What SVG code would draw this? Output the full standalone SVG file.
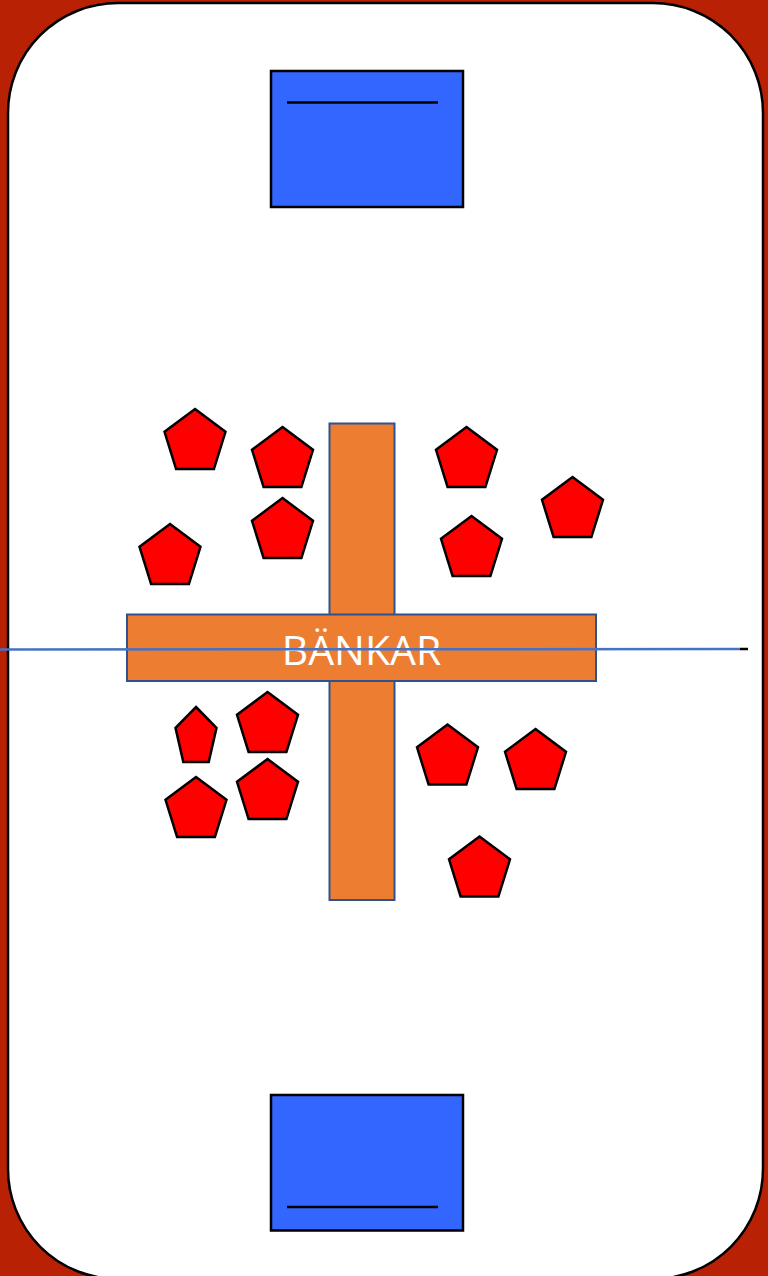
<svg xmlns="http://www.w3.org/2000/svg" width="768" height="1276" viewBox="0 0 768 1276">
<style>
.goal{fill:#3366FF;stroke:#000;stroke-width:2.5}
.gline{stroke:#000;stroke-width:2.5}
.bench{fill:#ED7D31;stroke:#2F528F;stroke-width:2}
.p{fill:#FF0000;stroke:#000;stroke-width:2.5;stroke-linejoin:miter}
.lbl{font-family:"Open Sans","Liberation Sans",sans-serif;font-size:41px;fill:#fff}
</style>
<rect x="0" y="0" width="768" height="1276" fill="#B82104"/>
<rect x="8" y="3" width="755" height="1276" rx="110" ry="110" fill="#fff" stroke="#000" stroke-width="2.5"/>
<g id="goal-top"><rect class="goal" x="271" y="71" width="192" height="136"/><line class="gline" x1="287" y1="102.5" x2="438" y2="102.5"/></g>
<g id="goal-bottom"><rect class="goal" x="271" y="1095" width="192" height="135.5"/><line class="gline" x1="287" y1="1207" x2="438" y2="1207"/></g>
<g id="bench-vertical"><rect class="bench" x="329.5" y="423.5" width="65" height="476.5"/></g>
<g id="bench-horizontal"><rect class="bench" x="127" y="614.5" width="469" height="66.5"/><text class="lbl" x="361.5" y="664.5" text-anchor="middle">BÄNKAR</text></g>
<g id="players">
<polygon id="p1" class="p" points="195,409 225.5,431.8 213.9,469 176.1,469 164.5,431.8"/>
<polygon id="p2" class="p" points="282.5,427 313,449.8 301.4,487 263.6,487 252,449.8"/>
<polygon id="p3" class="p" points="282.5,498 313,520.8 301.4,558 263.6,558 252,520.8"/>
<polygon id="p4" class="p" points="170,524 200.5,546.8 188.9,584 151.1,584 139.5,546.8"/>
<polygon id="p5" class="p" points="466.5,427 497,449.8 485.4,487 447.6,487 436,449.8"/>
<polygon id="p6" class="p" points="572.5,477 603,499.8 591.4,537 553.6,537 542,499.8"/>
<polygon id="p7" class="p" points="471.5,516 502,538.8 490.4,576 452.6,576 441,538.8"/>
<polygon id="p8" class="p" points="196,707 216.5,727.9 208.7,762 183.3,762 175.5,727.9"/>
<polygon id="p9" class="p" points="267.5,692 298,714.8 286.4,752 248.6,752 237,714.8"/>
<polygon id="p10" class="p" points="196,777 226.5,799.8 214.9,837 177.1,837 165.5,799.8"/>
<polygon id="p11" class="p" points="267.5,759 298,781.8 286.4,819 248.6,819 237,781.8"/>
<polygon id="p12" class="p" points="447.5,724.5 478,747.3 466.4,784.5 428.6,784.5 417,747.3"/>
<polygon id="p13" class="p" points="535.5,729 566,751.8 554.4,789 516.6,789 505,751.8"/>
<polygon id="p14" class="p" points="479.5,836.5 510,859.3 498.4,896.5 460.6,896.5 449,859.3"/>
</g>
<g id="connectors">
<line x1="0" y1="649.5" x2="740" y2="649" stroke="#4472C4" stroke-width="2.5"/>
<line x1="740" y1="649" x2="748" y2="649" stroke="#000" stroke-width="2.5"/>
</g>
</svg>
